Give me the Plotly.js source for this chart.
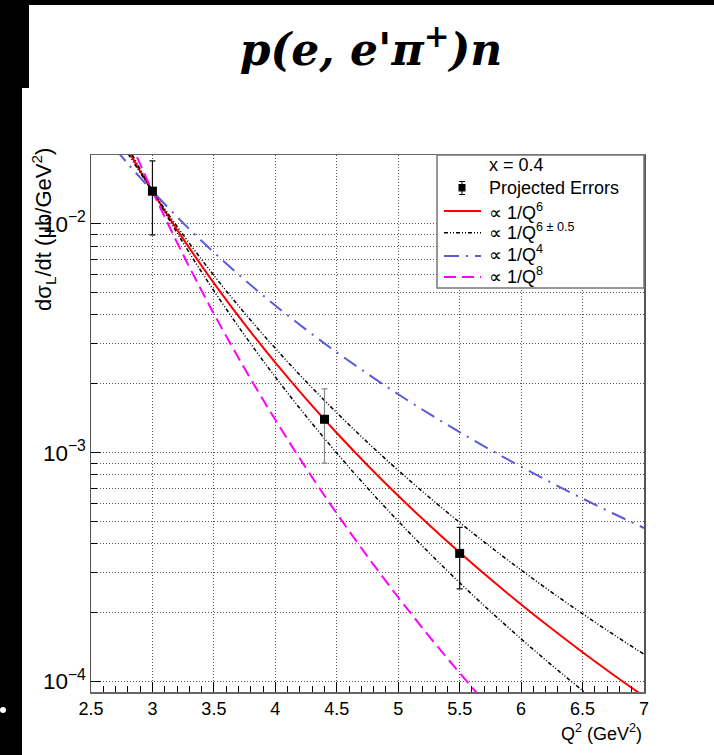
<!DOCTYPE html>
<html>
<head>
<meta charset="utf-8">
<script src="https://cdn.plot.ly/plotly-3.0.1.min.js"></script>
<style>
  html, body { margin: 0; padding: 0; background: #fff; }
  #wrap { position: relative; width: 714px; height: 755px; overflow: hidden; }
  #chart { width: 714px; height: 755px; }
  .blk { position: absolute; background: #000; }
  .dot { position: absolute; background: #fff; border-radius: 50%; }
</style>
</head>
<body>
<div id="wrap">
  <div id="chart"></div>
  <div class="blk" style="left:0;top:0;width:714px;height:5px;"></div>
  <div class="blk" style="left:0;top:0;width:29px;height:88px;"></div>
  <div class="blk" style="left:0;top:88px;width:22px;height:667px;"></div>
  <div class="dot" style="left:0px;top:707px;width:6px;height:6px;"></div>
</div>
<script>
// Q^2 sample positions (GeV^2)
const q2 = [2.7, 2.8, 2.9, 3.0, 3.25, 3.5, 3.75, 4.0, 4.25, 4.5, 4.75, 5.0, 5.25, 5.5, 5.75, 6.0, 6.25, 6.5, 6.75, 7.0];

// dsigma_L/dt values (ub/GeV^2)
const red_q6 = [0.02615, 0.02103, 0.01704, 0.0139, 0.008599, 0.005512, 0.003644, 0.002474, 0.00172, 0.00122,
                0.000882, 0.0006485, 0.000484, 0.000366, 0.0002803, 0.0002171, 0.00017, 0.0001343, 0.0001071, 0.0000861];
const black_q55 = [0.02481, 0.02032, 0.01675, 0.0139, 0.00895, 0.005954, 0.004074, 0.002857, 0.002047, 0.001495,
                   0.00111, 0.0008372, 0.0006402, 0.0004956, 0.0003881, 0.0003072, 0.0002453, 0.0001978, 0.0001607, 0.0001316];
const black_q65 = [0.02757, 0.02177, 0.01733, 0.0139, 0.008262, 0.005103, 0.003259, 0.002142, 0.001445, 0.0009964,
                   0.0007011, 0.0005023, 0.0003658, 0.0002703, 0.0002025, 0.0001536, 0.0001178, 0.0000913, 0.0000714, 0.0000564];
const blue_q4 = [0.02119, 0.01832, 0.01592, 0.0139, 0.01009, 0.007503, 0.005693, 0.004398, 0.003451, 0.002746,
                 0.002212, 0.001801, 0.001482, 0.00123, 0.00103, 0.0008687, 0.0007378, 0.0006307, 0.0005424, 0.0004689];
const q2_mag = [2.7, 2.8, 2.9, 3.0, 3.25, 3.5, 3.75, 4.0, 4.25, 4.5, 4.75, 5.0, 5.25, 5.5, 5.75, 6.0];
const magenta_q8 = [0.03229, 0.02414, 0.01823, 0.0139, 0.007327, 0.00405, 0.002332, 0.001392, 0.0008567, 0.0005424,
                    0.0003519, 0.0002335, 0.0001581, 0.000109, 0.0000763, 0.0000543];

// projected data points
const pt_q2 = [3.0, 4.4, 5.5];
const pt_val = [0.0139, 0.0014, 0.000363];
const pt_err = [0.00495, 0.0005, 0.000109];
const pt_barcolor = ['#111111', '#888888', '#111111'];

// legend labels
const legendLabels = ['x = 0.4', 'Projected Errors', '\u221D 1/Q<sup>6</sup>', '\u221D 1/Q<sup>6 \u00B1 0.5</sup>',
                      '\u221D 1/Q<sup>4</sup>', '\u221D 1/Q<sup>8</sup>'];

const FONT = 'Liberation Sans, Arial, Helvetica, sans-serif';
const C_RED = '#ff0000', C_BLK = '#000000', C_BLUE = '#5b5bdb', C_MAG = '#ff00ff';
const D_BLK = '4px,2px,1px,2px,1px,2px', D_BLUE = '15px,7px,2px,7px', D_MAG = '12px,6px';

const traces = [
  { x: q2, y: red_q6, mode: 'lines', line: { color: C_RED, width: 2, shape: 'spline' } },
  { x: q2, y: black_q55, mode: 'lines', line: { color: C_BLK, width: 1.5, dash: D_BLK, shape: 'spline' } },
  { x: q2, y: black_q65, mode: 'lines', line: { color: C_BLK, width: 1.5, dash: D_BLK, shape: 'spline' } },
  { x: q2, y: blue_q4, mode: 'lines', line: { color: C_BLUE, width: 2, dash: D_BLUE, shape: 'spline' } },
  { x: q2_mag, y: magenta_q8, mode: 'lines', line: { color: C_MAG, width: 2, dash: D_MAG, shape: 'spline' } }
];
// one marker trace per point so each error bar keeps its own colour
pt_q2.forEach((xv, i) => {
  traces.push({
    x: [xv], y: [pt_val[i]], mode: 'markers',
    marker: { symbol: 'square', size: 9, color: '#000' },
    error_y: { type: 'data', array: [pt_err[i]], visible: true, color: pt_barcolor[i], thickness: 1.2, width: 3 }
  });
});

// ---- legend box (paper coordinates; plot area is 553 x 537 px) ----
const PX = px => (px - 91) / 553;
const PY = py => (692 - py) / 537;
const shapes = [
  { type: 'rect', xref: 'paper', yref: 'paper', x0: PX(437), x1: 1, y0: PY(288), y1: 1,
    fillcolor: '#fff', line: { color: '#777', width: 1.5 }, layer: 'above' },
  { type: 'line', xref: 'paper', yref: 'paper', x0: PX(444), x1: PX(481), y0: PY(211), y1: PY(211),
    line: { color: C_RED, width: 2 }, layer: 'above' },
  { type: 'line', xref: 'paper', yref: 'paper', x0: PX(444), x1: PX(481), y0: PY(232.7), y1: PY(232.7),
    line: { color: C_BLK, width: 1.5, dash: D_BLK }, layer: 'above' },
  { type: 'line', xref: 'paper', yref: 'paper', x0: PX(444), x1: PX(481), y0: PY(256), y1: PY(256),
    line: { color: C_BLUE, width: 2, dash: D_BLUE }, layer: 'above' },
  { type: 'line', xref: 'paper', yref: 'paper', x0: PX(444), x1: PX(481), y0: PY(277), y1: PY(277),
    line: { color: C_MAG, width: 2, dash: D_MAG }, layer: 'above' },
  // marker sample with error bar
  { type: 'line', xref: 'paper', yref: 'paper', x0: PX(462), x1: PX(462), y0: PY(181.5), y1: PY(194.5),
    line: { color: '#000', width: 1 }, layer: 'above' },
  { type: 'line', xref: 'paper', yref: 'paper', x0: PX(459), x1: PX(465), y0: PY(181.5), y1: PY(181.5),
    line: { color: '#000', width: 1 }, layer: 'above' },
  { type: 'line', xref: 'paper', yref: 'paper', x0: PX(459), x1: PX(465), y0: PY(194.5), y1: PY(194.5),
    line: { color: '#000', width: 1 }, layer: 'above' },
  { type: 'rect', xref: 'paper', yref: 'paper', x0: PX(458.5), x1: PX(465.5), y0: PY(191.5), y1: PY(184),
    fillcolor: '#000', line: { color: '#000', width: 0 }, layer: 'above' }
];
const legendY = [165, 187.5, 211, 231, 253.5, 275.5];
const legendAnns = legendLabels.map((t, i) => ({
  text: t, xref: 'paper', yref: 'paper', x: PX(487), y: PY(legendY[i]),
  xanchor: 'left', yanchor: 'middle', showarrow: false,
  font: { family: FONT, size: 18, color: '#000' }
}));

const layout = {
  width: 714, height: 755,
  margin: { l: 91, r: 70, t: 155, b: 63 },
  paper_bgcolor: '#fff', plot_bgcolor: '#fff',
  font: { family: FONT, color: '#000', size: 18 },
  showlegend: false,
  title: {
    text: "<b><i>p(e, e'\u03C0<sup>+</sup>)n</i></b>",
    font: { family: 'DejaVu Serif, Liberation Serif, serif', size: 44, color: '#000' },
    xref: 'container', x: 0.5196, xanchor: 'center',
    yref: 'container', y: 0.934, yanchor: 'middle'
  },
  xaxis: {
    range: [2.5, 7], tick0: 2.5, dtick: 0.5,
    ticks: 'inside', ticklen: 10, tickwidth: 1, tickcolor: '#000',
    showgrid: true, gridcolor: '#555', griddash: '1px,2px', gridwidth: 1,
    showline: true, linecolor: '#666', linewidth: 1.5, mirror: true,
    zeroline: false,
    tickfont: { family: FONT, size: 18, color: '#000' },
    minor: { dtick: 0.1, ticks: 'inside', ticklen: 6, tickcolor: '#000', showgrid: false }
  },
  yaxis: {
    type: 'log', range: [Math.log10(9e-5), Math.log10(0.02)], dtick: 1,
    exponentformat: 'power',
    ticks: 'inside', ticklen: 10, tickwidth: 1, tickcolor: '#000',
    showgrid: true, gridcolor: '#555', griddash: '1px,2px', gridwidth: 1,
    showline: true, linecolor: '#555', linewidth: 1.5, mirror: true,
    zeroline: false,
    tickfont: { family: FONT, size: 18, color: '#000' },
    minor: { dtick: 'D1', ticks: 'inside', ticklen: 6, tickcolor: '#000',
             showgrid: true, gridcolor: '#555', griddash: '1px,2px', gridwidth: 1 }
  },
  shapes: shapes,
  annotations: [
    { text: 'd\u03C3<sub>L</sub>/dt (\u03BCb/GeV<sup>2</sup>)', textangle: -90,
      xref: 'paper', yref: 'paper', x: -0.087, y: PY(229), xanchor: 'center', yanchor: 'middle',
      showarrow: false, font: { family: FONT, size: 22, color: '#000' } },
    { text: 'Q<sup>2</sup> (GeV<sup>2</sup>)',
      xref: 'paper', yref: 'paper', x: 1, y: PY(732), xanchor: 'right', yanchor: 'middle',
      showarrow: false, font: { family: FONT, size: 18, color: '#000' } }
  ].concat(legendAnns)
};

Plotly.newPlot('chart', traces, layout, { displayModeBar: false, staticPlot: true });
</script>
</body>
</html>
